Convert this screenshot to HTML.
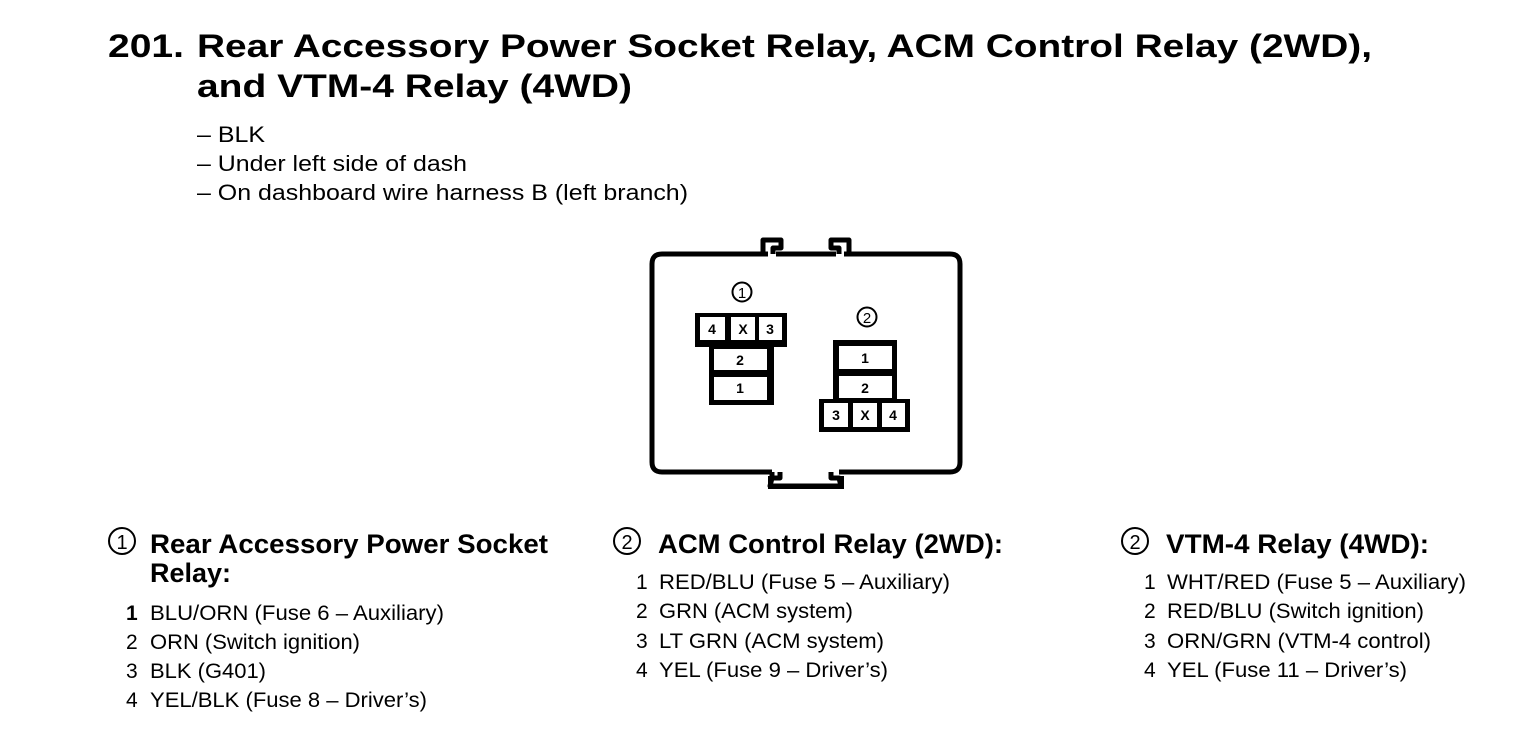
<!DOCTYPE html>
<html><head><meta charset="utf-8"><style>
html,body{margin:0;padding:0;background:#fff;}
svg{display:block;}
text{font-family:"Liberation Sans",Arial,sans-serif;fill:#000;}
.t{font-weight:bold;font-size:32px;}
.b{font-size:22px;}
.h{font-weight:bold;font-size:27px;}
.i{font-size:21px;}
.c{font-weight:bold;font-size:14px;text-anchor:middle;}
</style></head><body>
<svg width="1520" height="752" viewBox="0 0 1520 752" xmlns="http://www.w3.org/2000/svg">
<rect width="1520" height="752" fill="#fff"/>
<text class="t" x="108" y="57" textLength="76" lengthAdjust="spacingAndGlyphs">201.</text>
<text class="t" x="197" y="57" textLength="1175" lengthAdjust="spacingAndGlyphs">Rear Accessory Power Socket Relay, ACM Control Relay (2WD),</text>
<text class="t" x="197" y="97" textLength="435" lengthAdjust="spacingAndGlyphs">and VTM-4 Relay (4WD)</text>
<text class="b" x="197" y="142" textLength="68" lengthAdjust="spacingAndGlyphs">– BLK</text>
<text class="b" x="197" y="171" textLength="270" lengthAdjust="spacingAndGlyphs">– Under left side of dash</text>
<text class="b" x="197" y="200" textLength="491" lengthAdjust="spacingAndGlyphs">– On dashboard wire harness B (left branch)</text>

<!-- connector outline -->
<g fill="none" stroke="#000" stroke-width="5" stroke-linejoin="round">
<path d="M768,254 L662,254 Q652,254 652,264 L652,462 Q652,472 662,472 L772,472"/>
<path d="M776,254 L836,254"/>
<path d="M844,254 L950,254 Q960,254 960,264 L960,462 Q960,472 950,472 L839,472"/>
<path d="M768,254 L763,254 L763,240 L781,240 L781,248 L773,248 L773,254"/>
<path d="M844,254 L849,254 L849,240 L831,240 L831,248 L839,248 L839,254"/>
<path d="M772,472 L772,478 L780,478 L780,472 M772,478 L770,486 L841,486 L839,478 L831,478 L831,472"/>
</g>
<path d="M770,476 L770,487 L842,487 L842,476" fill="none" stroke="#000" stroke-width="4"/>

<!-- connector 1 -->
<circle cx="742" cy="292" r="9.5" fill="none" stroke="#000" stroke-width="2"/>
<text x="742" y="298" style="font-size:15px;text-anchor:middle">1</text>
<rect x="695" y="313" width="92" height="34" fill="#000"/>
<rect x="709" y="345" width="65" height="60" fill="#000"/>
<g fill="#fff">
<rect x="700" y="317" width="25" height="23"/><rect x="731" y="317" width="24" height="23"/><rect x="759" y="317" width="23" height="23"/>
<rect x="714" y="349" width="53" height="21"/><rect x="714" y="377" width="53" height="23"/>
</g>
<text class="c" x="712" y="334">4</text><text class="c" x="743" y="334">X</text><text class="c" x="770" y="334">3</text>
<text class="c" x="740" y="365">2</text><text class="c" x="740" y="393">1</text>

<!-- connector 2 -->
<circle cx="867" cy="317" r="9.5" fill="none" stroke="#000" stroke-width="2"/>
<text x="867" y="323" style="font-size:15px;text-anchor:middle">2</text>
<rect x="833" y="340" width="64" height="64" fill="#000"/>
<rect x="819" y="399" width="91" height="33" fill="#000"/>
<g fill="#fff">
<rect x="839" y="346" width="53" height="23"/><rect x="839" y="376" width="53" height="22"/>
<rect x="824" y="403" width="24" height="24"/><rect x="853" y="403" width="24" height="24"/><rect x="882" y="403" width="23" height="24"/>
</g>
<text class="c" x="865" y="363">1</text><text class="c" x="865" y="393">2</text>
<text class="c" x="836" y="420">3</text><text class="c" x="865" y="420">X</text><text class="c" x="893" y="420">4</text>

<!-- column 1 -->
<circle cx="122" cy="541" r="13" fill="none" stroke="#000" stroke-width="2"/>
<text x="122" y="549" style="font-size:20px;text-anchor:middle">1</text>
<text class="h" x="150" y="553" textLength="398" lengthAdjust="spacingAndGlyphs">Rear Accessory Power Socket</text>
<text class="h" x="150" y="582" textLength="81" lengthAdjust="spacingAndGlyphs">Relay:</text>
<text class="i" x="126" y="620" style="font-weight:bold">1</text>
<text class="i" x="150" y="620" textLength="294" lengthAdjust="spacingAndGlyphs">BLU/ORN (Fuse 6 – Auxiliary)</text>
<text class="i" x="126" y="649">2</text>
<text class="i" x="150" y="649" textLength="210" lengthAdjust="spacingAndGlyphs">ORN (Switch ignition)</text>
<text class="i" x="126" y="678">3</text>
<text class="i" x="150" y="678" textLength="116" lengthAdjust="spacingAndGlyphs">BLK (G401)</text>
<text class="i" x="126" y="707">4</text>
<text class="i" x="150" y="707" textLength="277" lengthAdjust="spacingAndGlyphs">YEL/BLK (Fuse 8 – Driver’s)</text>

<!-- column 2 -->
<circle cx="627" cy="541" r="13" fill="none" stroke="#000" stroke-width="2"/>
<text x="627" y="549" style="font-size:20px;text-anchor:middle">2</text>
<text class="h" x="658" y="553" textLength="345" lengthAdjust="spacingAndGlyphs">ACM Control Relay (2WD):</text>
<text class="i" x="636" y="589">1</text>
<text class="i" x="659" y="589" textLength="291" lengthAdjust="spacingAndGlyphs">RED/BLU (Fuse 5 – Auxiliary)</text>
<text class="i" x="636" y="618">2</text>
<text class="i" x="659" y="618" textLength="194" lengthAdjust="spacingAndGlyphs">GRN (ACM system)</text>
<text class="i" x="636" y="648">3</text>
<text class="i" x="659" y="648" textLength="225" lengthAdjust="spacingAndGlyphs">LT GRN (ACM system)</text>
<text class="i" x="636" y="677">4</text>
<text class="i" x="659" y="677" textLength="229" lengthAdjust="spacingAndGlyphs">YEL (Fuse 9 – Driver’s)</text>

<!-- column 3 -->
<circle cx="1135" cy="541" r="13" fill="none" stroke="#000" stroke-width="2"/>
<text x="1135" y="549" style="font-size:20px;text-anchor:middle">2</text>
<text class="h" x="1166" y="553" textLength="263" lengthAdjust="spacingAndGlyphs">VTM-4 Relay (4WD):</text>
<text class="i" x="1144" y="589">1</text>
<text class="i" x="1167" y="589" textLength="299" lengthAdjust="spacingAndGlyphs">WHT/RED (Fuse 5 – Auxiliary)</text>
<text class="i" x="1144" y="618">2</text>
<text class="i" x="1167" y="618" textLength="257" lengthAdjust="spacingAndGlyphs">RED/BLU (Switch ignition)</text>
<text class="i" x="1144" y="648">3</text>
<text class="i" x="1167" y="648" textLength="264" lengthAdjust="spacingAndGlyphs">ORN/GRN (VTM-4 control)</text>
<text class="i" x="1144" y="677">4</text>
<text class="i" x="1167" y="677" textLength="240" lengthAdjust="spacingAndGlyphs">YEL (Fuse 11 – Driver’s)</text>
</svg>
</body></html>
